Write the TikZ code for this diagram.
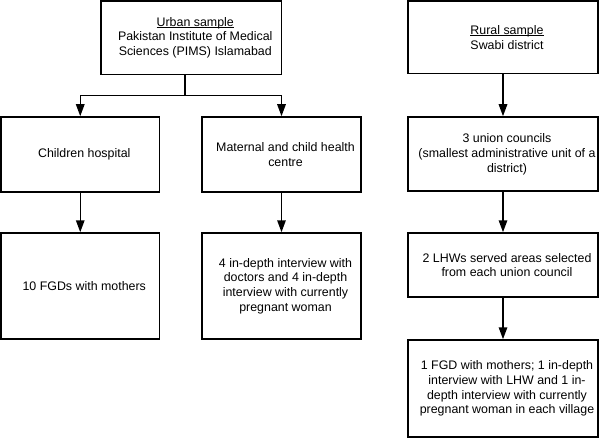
\documentclass[tikz,border=0pt]{standalone}
\usepackage{fontspec}
\setmainfont{Liberation Sans}
\usetikzlibrary{arrows.meta}
\newcommand\myuline[1]{\setbox0\hbox{#1}\rlap{\rule[-1.8pt]{\wd0}{0.7pt}}#1}
\begin{document}
\begin{tikzpicture}[x=1pt,y=-1pt,
  box/.style={draw, line width=1.5pt, rectangle, inner sep=0pt},
  txt/.style={align=center, inner sep=0pt, font=\fontsize{12.4}{14.8}\selectfont, xshift=4pt},
  conn/.style={line width=1.5pt},
  arr/.style={line width=1.5pt, -{Triangle[length=12pt,width=8.5pt]}}]
\useasboundingbox (0,0) rectangle (600,441);
% boxes
\node[box, minimum width=180.5pt, minimum height=73.5pt] (urban) at (191.25,37.75) {};
\node[box, minimum width=158.5pt, minimum height=75pt] (children) at (80.25,154.5) {};
\node[box, minimum width=159pt, minimum height=75pt] (maternal) at (281.5,154.5) {};
\node[box, minimum width=158.5pt, minimum height=106pt] (fgd) at (80.25,286) {};
\node[box, minimum width=159pt, minimum height=106pt] (idi) at (281.5,286) {};
\node[box, minimum width=190pt, minimum height=72.5pt] (rural) at (503,37.25) {};
\node[box, minimum width=190pt, minimum height=74pt] (union) at (503,154) {};
\node[box, minimum width=190pt, minimum height=64pt] (lhw) at (503,265) {};
\node[box, minimum width=190pt, minimum height=97pt] (final) at (503,388.5) {};
% texts
\node[txt] (urbant) at (urban.center) {\myuline{Urban sample}\\Pakistan Institute of Medical\\Sciences (PIMS) Islamabad};
\node[txt] (childrent) at (children.center) {Children hospital};
\node[txt] (maternalt) at (maternal.center) {Maternal and child health\\centre};
\node[txt] (fgdt) at (fgd.center) {10 FGDs with mothers};
\node[txt] (idit) at (idi.center) {4 in-depth interview with\\doctors and 4 in-depth\\interview with currently\\pregnant woman};
\node[txt] (ruralt) at (rural.center) {\myuline{Rural sample}\\Swabi district};
\node[txt] (uniont) at (union.center) {3 union councils\\(smallest administrative unit of a\\district)};
\node[txt] (lhwt) at (lhw.center) {2 LHWs served areas selected\\from each union council};
\node[txt] (finalt) at (final.center) {1 FGD with mothers; 1 in-depth\\interview with LHW and 1 in-\\depth interview with currently\\pregnant woman in each village};
% connectors
\coordinate (stem) at (185,95.7);
\draw[conn] (stem |- urban.south) -- (stem);
\draw[arr] (stem) -| (children.north);
\draw[arr] (stem) -| (maternal.north);
\draw[arr] (children.south) -- (fgd.north);
\draw[arr] (maternal.south) -- (idi.north);
\draw[arr] (rural.south) -- (union.north);
\draw[arr] (union.south) -- (lhw.north);
\draw[arr] (lhw.south) -- (final.north);
\end{tikzpicture}
\end{document}
